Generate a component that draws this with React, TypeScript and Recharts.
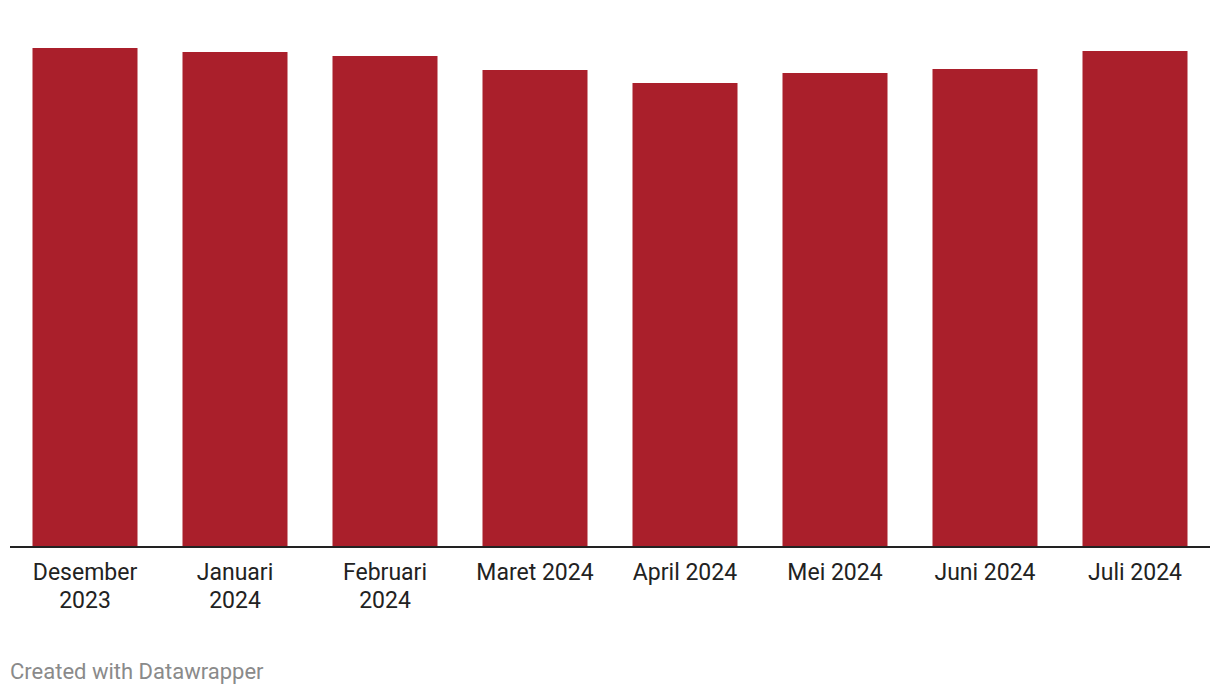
import { Bar, BarChart, XAxis, YAxis } from 'recharts';

const BAR_COLOR = '#aa1f2b';
const TEXT_COLOR = '#222222';
const FONT = 'Roboto, sans-serif';

// Labels as shown in the chart (line breaks as rendered)
const months = [
  'Desember\n2023',
  'Januari\n2024',
  'Februari\n2024',
  'Maret 2024',
  'April 2024',
  'Mei 2024',
  'Juni 2024',
  'Juli 2024',
];
// No value axis in the original: relative heights
const values = [499, 495, 491, 477, 464, 474, 478, 496];

const data = months.map((m, i) => ({ month: m, value: values[i] }));

function MonthTick(props: any) {
  const { x, y, payload } = props;
  const lines = String(payload.value).split('\n');
  return (
    <text x={x} y={y} textAnchor="middle" fill={TEXT_COLOR} fontFamily={FONT} fontSize={23}>
      {lines.map((line, i) => (
        <tspan key={i} x={x} dy={i === 0 ? 25 : 28}>
          {line}
        </tspan>
      ))}
    </text>
  );
}

export default function App() {
  return (
    <div style={{ position: 'absolute', left: 0, top: 0, width: 1220, height: 696, background: '#fff' }}>
      <BarChart
        width={1220}
        height={640}
        data={data}
        margin={{ top: 47, right: 10, left: 10, bottom: 0 }}
        barCategoryGap="15%"
      >
        <XAxis
          dataKey="month"
          tick={<MonthTick />}
          tickLine={false}
          axisLine={{ stroke: '#222', strokeWidth: 2 }}
          interval={0}
          height={93}
        />
        <YAxis hide domain={[0, 500]} />
        <Bar dataKey="value" fill={BAR_COLOR} isAnimationActive={false} />
      </BarChart>
      <div
        style={{
          position: 'absolute',
          left: 10,
          top: 658,
          fontFamily: FONT,
          fontSize: 22,
          color: '#8a8a8a',
          lineHeight: '28px',
        }}
      >
        Created with Datawrapper
      </div>
    </div>
  );
}
